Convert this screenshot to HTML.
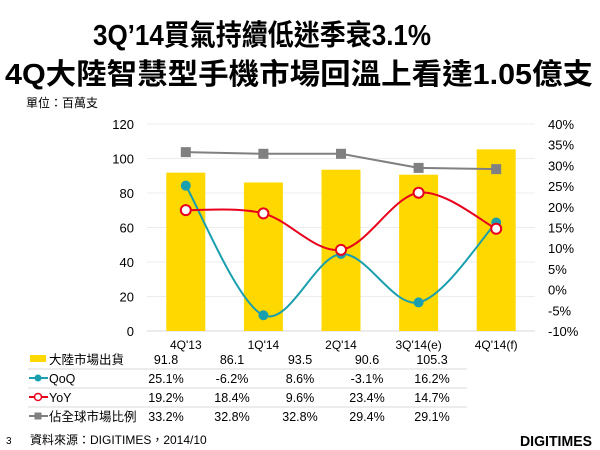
<!DOCTYPE html>
<html><head><meta charset="utf-8"><style>
body{margin:0;background:#fff;}
svg{display:block;font-family:"Liberation Sans","Noto Sans CJK TC",sans-serif;}
</style></head><body>
<svg id="c" width="600" height="450" viewBox="0 0 600 450">
<text x="262" y="45" font-size="29" font-weight="bold" text-anchor="middle" textLength="338" lengthAdjust="spacingAndGlyphs">3Q’14買氣持續低迷季衰3.1%</text>
<text x="299" y="84" font-size="29" font-weight="bold" text-anchor="middle" textLength="588" lengthAdjust="spacingAndGlyphs">4Q大陸智慧型手機市場回溫上看達1.05億支</text>
<text x="26" y="107" font-size="12">單位：百萬支</text>
<g id="grid"></g><g id="bars"></g><g id="lines"></g><g id="axes"></g><g id="table"></g>
<text x="6" y="444" font-size="10">3</text>
<text x="30" y="444" font-size="12">資料來源：DIGITIMES，2014/10</text>
<text x="592" y="446" font-size="15" font-weight="900" text-anchor="end" textLength="72" lengthAdjust="spacingAndGlyphs">DIGITIMES</text>
</svg>
<script>
const categories=["4Q'13","1Q'14","2Q'14","3Q'14(e)","4Q'14(f)"];
const shipments=[91.8,86.1,93.5,90.6,105.3];
const qoq=[25.1,-6.2,8.6,-3.1,16.2];
const yoy=[19.2,18.4,9.6,23.4,14.7];
const share=[33.2,32.8,32.8,29.4,29.1];
const leftTicks=[0,20,40,60,80,100,120];
const rightTicks=[-10,-5,0,5,10,15,20,25,30,35,40];
const NS="http://www.w3.org/2000/svg";
const X0=147,X1=535,YB=331,YT=124;
const yL=v=>YB-(v/120)*(YB-YT);
const yR=v=>YB-((v+10)/50)*(YB-YT);
const xC=i=>X0+(i+0.5)*(X1-X0)/categories.length;
function mk(parent,tag,attrs){const e=document.createElementNS(NS,tag);for(const k in attrs)e.setAttribute(k,attrs[k]);document.getElementById(parent).appendChild(e);return e;}
leftTicks.forEach(t=>{
  const l=mk('grid','line',{x1:X0,x2:X1,y1:yL(t),y2:yL(t),stroke:t===0?'#d9d9d9':'#ececec','stroke-width':1});
  
  
  const tx=mk('axes','text',{x:134,y:yL(t)+5,'font-size':13,'text-anchor':'end'});tx.textContent=t;
  
  
});
rightTicks.forEach(t=>{
  const tx=mk('axes','text',{x:548,y:yR(t)+5,'font-size':13});tx.textContent=t+'%';
  
  
});
categories.forEach((c,i)=>{
  const b=mk('bars','rect',{x:xC(i)-19.5,y:yL(shipments[i]),width:39,height:YB-yL(shipments[i]),fill:'#ffd800'});
  
  
  const tx=mk('axes','text',{x:xC(i),y:349,'font-size':12,'text-anchor':'middle'});tx.textContent=c;
  
  
});
function smooth(pts){let d='M'+pts[0][0]+','+pts[0][1];for(let i=0;i<pts.length-1;i++){const p0=pts[Math.max(i-1,0)],p1=pts[i],p2=pts[i+1],p3=pts[Math.min(i+2,pts.length-1)];const t=1/6;d+=' C'+(p1[0]+(p2[0]-p0[0])*t)+','+(p1[1]+(p2[1]-p0[1])*t)+' '+(p2[0]-(p3[0]-p1[0])*t)+','+(p2[1]-(p3[1]-p1[1])*t)+' '+p2[0]+','+p2[1];}return d;}
// share line (straight)
const sp=share.map((v,i)=>[xC(i),yR(v)]);
const sl=mk('lines','polyline',{points:sp.map(p=>p.join(',')).join(' '),fill:'none',stroke:'#808080','stroke-width':2});


sp.forEach(p=>{const r=mk('lines','rect',{x:p[0]-5,y:p[1]-5,width:10,height:10,fill:'#808080'});
  
  });
const qp=qoq.map((v,i)=>[xC(i),yR(v)]);
const ql=mk('lines','path',{d:smooth(qp),fill:'none',stroke:'#1a9fae','stroke-width':2});


qp.forEach(p=>{const c=mk('lines','circle',{cx:p[0],cy:p[1],r:5,fill:'#1a9fae'});
  
  });
const yp=yoy.map((v,i)=>[xC(i),yR(v)]);
const yl=mk('lines','path',{d:smooth(yp),fill:'none',stroke:'#e8001c','stroke-width':2});


yp.forEach(p=>{const c=mk('lines','circle',{cx:p[0],cy:p[1],r:5,fill:'#fff',stroke:'#e8001c','stroke-width':2});
  
  });
// table
const rowNames=['大陸市場出貨','QoQ','YoY','佔全球市場比例'];
const rowData=[shipments.map(v=>v.toFixed(1)),qoq.map(v=>v.toFixed(1)+'%'),yoy.map(v=>v.toFixed(1)+'%'),share.map(v=>v.toFixed(1)+'%')];
const rowY=[364,383,402,421];
const colX=[166,232,300,367,432];
[369,388,407].forEach(y=>{const l=mk('table','line',{x1:28,x2:467,y1:y,y2:y,stroke:'#d9d9d9'});
  
  });
rowNames.forEach((n,r)=>{
  const y=rowY[r];
  if(r===0){const s=mk('table','rect',{x:30,y:y-9,width:16,height:7,fill:'#ffd800'});}
  else{
    const col=['','#1a9fae','#e8001c','#808080'][r];
    mk('table','line',{x1:29,x2:48,y1:y-5,y2:y-5,stroke:col,'stroke-width':2});
    let m;
    if(r===1)m=mk('table','circle',{cx:38,cy:y-5,r:3.5,fill:col});
    else if(r===2)m=mk('table','circle',{cx:38,cy:y-5,r:3.5,fill:'#fff',stroke:col,'stroke-width':1.5});
    else m=mk('table','rect',{x:34.5,y:y-8.5,width:7,height:7,fill:col});
    
    
  }
  const t=mk('table','text',{x:49,y:y,'font-size':12.5});t.textContent=n;
  
  
  rowData[r].forEach((v,i)=>{const c=mk('table','text',{x:colX[i],y:y,'font-size':12.5,'text-anchor':'middle'});c.textContent=v;
    
    });
});
</script>
</body></html>
